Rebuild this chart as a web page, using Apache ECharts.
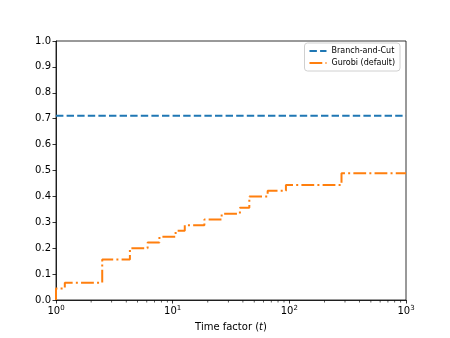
<!DOCTYPE html>
<html>
<head>
<meta charset="utf-8">
<script src="https://cdn.jsdelivr.net/npm/echarts@6/dist/echarts.min.js"></script>
<style>
  html, body { margin: 0; padding: 0; background: #fff; }
  #chart { width: 450px; height: 338px; }
</style>
</head>
<body>
<div id="chart"></div>
<script>
// 数据：性能曲线（时间因子 t 与求解比例）
var seriesNames = ['Branch-and-Cut', 'Gurobi (default)']
var bcX = [1, 1000]
var bcY = [0.711, 0.711]
var gurobiX = [1, 1, 1.19, 2.49, 4.3, 6.1, 7.7, 10.6, 12.7, 18.7, 26.3, 37.7, 45.4, 65.2, 93.5, 280, 1000]
var gurobiY = [0, 0.044, 0.067, 0.156, 0.2, 0.222, 0.244, 0.267, 0.289, 0.311, 0.333, 0.356, 0.4, 0.422, 0.444, 0.489, 0.489]
var yTicks = [0, 0.1, 0.2, 0.3, 0.4, 0.5, 0.6, 0.7, 0.8, 0.9, 1.0]
var minorTicks = [2, 3, 4, 5, 6, 7, 8, 9, 20, 30, 40, 50, 60, 70, 80, 90, 200, 300, 400, 500, 600, 700, 800, 900]

function pairs (xs, ys) {
  return xs.map(function (x, i) { return [x, ys[i]] })
}

var chart = echarts.init(document.getElementById('chart'))

var option = {
  animation: false,
  textStyle: { fontFamily: 'DejaVu Sans' },
  grid: {
    left: 56,
    right: 44,
    top: 41,
    bottom: 38,
    show: true,
    borderColor: '#000',
    borderWidth: 0.8,
    backgroundColor: 'transparent'
  },
  legend: {
    data: seriesNames,
    orient: 'vertical',
    right: 50,
    top: 43,
    padding: [4, 5, 4, 4],
    itemGap: 4,
    itemWidth: 17,
    itemHeight: 8,
    borderColor: '#d0d0d0',
    borderWidth: 1,
    borderRadius: 3,
    itemStyle: { opacity: 0 },
    textStyle: { fontSize: 8, color: '#000', fontFamily: 'DejaVu Sans' }
  },
  xAxis: {
    type: 'log',
    logBase: 10,
    min: 1,
    max: 1000,
    name: '{n|Time factor (}{i|t}{n|)}',
    nameLocation: 'middle',
    nameGap: 22,
    nameTextStyle: {
      rich: {
        n: { fontSize: 10, color: '#000', fontFamily: 'DejaVu Sans' },
        i: { fontSize: 10, color: '#000', fontFamily: 'DejaVu Sans', fontStyle: 'italic' }
      }
    },
    axisLine: { show: true, lineStyle: { color: '#000', width: 0.8 } },
    axisTick: { show: true, length: 3.5, lineStyle: { color: '#000', width: 0.8 } },
    splitLine: { show: false },
    axisLabel: {
      margin: 5,
      formatter: function (v) {
        return '{b|10}{s|' + Math.round(Math.log10(v)) + '}'
      },
      rich: {
        b: { fontSize: 10, color: '#000', fontFamily: 'DejaVu Sans' },
        s: { fontSize: 7, color: '#000', fontFamily: 'DejaVu Sans', padding: [0, 0, 6, 0] }
      }
    }
  },
  yAxis: {
    type: 'value',
    min: 0,
    max: 1,
    interval: 0.1,
    axisLine: { show: true, lineStyle: { color: '#000', width: 0.8 } },
    axisTick: { show: true, length: 3.5, lineStyle: { color: '#000', width: 0.8 } },
    splitLine: { show: false },
    axisLabel: {
      margin: 5,
      fontSize: 10,
      color: '#000',
      customValues: yTicks,
      formatter: function (v) { return v.toFixed(1) }
    }
  },
  series: [
    {
      name: seriesNames[0],
      type: 'line',
      data: pairs(bcX, bcY),
      symbol: 'none',
      color: '#1f77b4',
      lineStyle: { color: '#1f77b4', width: 2, type: [7.4, 3.2] }
    },
    {
      name: seriesNames[1],
      type: 'line',
      step: 'end',
      data: pairs(gurobiX, gurobiY),
      symbol: 'none',
      color: '#ff7f0e',
      lineStyle: { color: '#ff7f0e', width: 2, type: [12.8, 3.2, 2, 3.2] }
    },
    {
      // 对数轴次刻度（画在 x 轴下方）
      name: 'minor',
      type: 'scatter',
      data: minorTicks.map(function (v) { return [v, 0] }),
      symbol: 'rect',
      symbolSize: [0.8, 2.2],
      symbolOffset: [0, 1.5],
      clip: false,
      silent: true,
      z: 1,
      itemStyle: { color: '#000' }
    }
  ]
}

chart.setOption(option)
</script>
</body>
</html>
